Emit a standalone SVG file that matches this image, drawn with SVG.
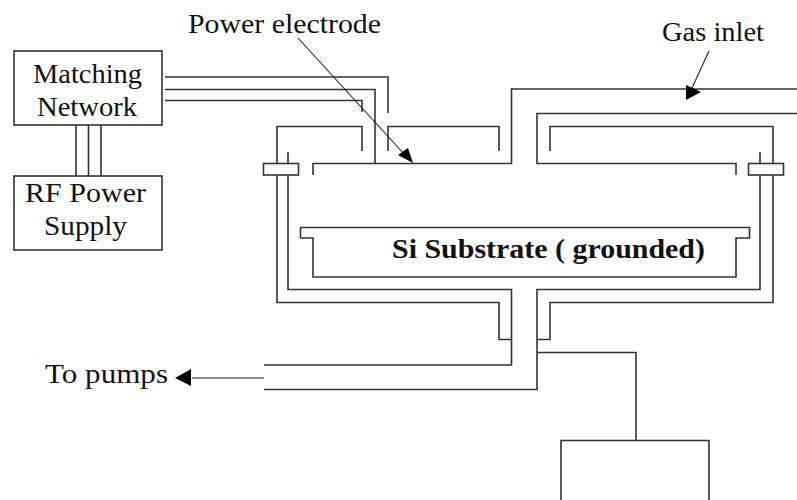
<svg xmlns="http://www.w3.org/2000/svg" width="797" height="500" viewBox="0 0 797 500">
<style>
.l{fill:none;stroke:#333;stroke-width:1.6}
.b{fill:#fff;stroke:#333;stroke-width:1.6}
.a{fill:none;stroke:#222;stroke-width:1.1}
.h{fill:#000;stroke:none}
text{font-family:"Liberation Serif","Times New Roman",serif;fill:#111;font-size:28px}
</style>
<rect width="797" height="500" fill="#fff"/>
<g id="connectors">
<path class="l" d="M76 125V176M88.500 125V176M101 125V176"/>
<path class="l" d="M165 77H388V113M165 89.500H375V163.500M165 100.500H362V112"/>
<path class="l" d="M362 151V126.500H277V302.500H499V339.500H511.500"/>
<path class="l" d="M388 151V126.500H499V151"/>
<path class="l" d="M313 175V163.500H511.500V89H797"/>
<path class="l" d="M797 113.500H537V163.500H736V175"/>
<path class="l" d="M550 151V126.500H773V302.500H550V339.500H537"/>
<path class="l" d="M288 152V289.500H511.500V365H264"/>
<path class="l" d="M760 152V289.500H537V389.500H264"/>
<path class="l" d="M300.500 238V227.500H749.500V238H736V277H313V238H300.500"/>
<path class="l" d="M537 352.500H636V440.500"/>
<path class="a" d="M264 378H192"/>
<path class="h" d="M175 378L191 369V386Z"/>
<path class="a" d="M298 38L405 155"/>
<path class="h" d="M413 163L398 155L408 148Z"/>
<path class="a" d="M709 51L692 88"/>
<path class="h" d="M686 100L686 85L701 92Z"/>
</g>
<g id="matching-network"><rect class="b" x="14" y="51" width="148" height="74"/><text x="33" y="83" textLength="109" lengthAdjust="spacingAndGlyphs">Matching</text><text x="37" y="116" textLength="100" lengthAdjust="spacingAndGlyphs">Network</text></g>
<g id="rf-power-supply"><rect class="b" x="14" y="176" width="148" height="74"/><text x="25" y="202" textLength="121" lengthAdjust="spacingAndGlyphs">RF Power</text><text x="44" y="235" textLength="83" lengthAdjust="spacingAndGlyphs">Supply</text></g>
<g id="flange-left"><rect class="b" x="263.500" y="163.500" width="35" height="11.500"/></g>
<g id="flange-right"><rect class="b" x="748.500" y="163.500" width="35" height="11.500"/></g>
<g id="substrate"><text x="392" y="258" font-weight="bold" textLength="313" lengthAdjust="spacingAndGlyphs">Si Substrate ( grounded)</text></g>
<g id="power-electrode"><text x="188" y="33" textLength="193" lengthAdjust="spacingAndGlyphs">Power electrode</text></g>
<g id="gas-inlet"><text x="662" y="41" textLength="102" lengthAdjust="spacingAndGlyphs">Gas inlet</text></g>
<g id="to-pumps"><text x="45" y="383" textLength="123" lengthAdjust="spacingAndGlyphs">To pumps</text></g>
<g id="box"><path class="l" d="M561 500V440.500H709V500"/></g>
</svg>
